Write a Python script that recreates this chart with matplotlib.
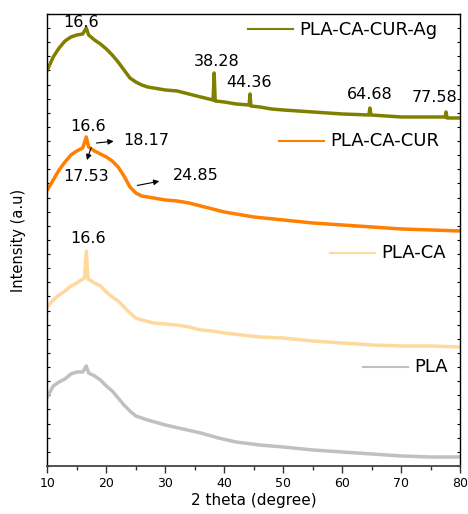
import matplotlib
matplotlib.use('Agg')
import numpy as np
from matplotlib import pyplot as plt

# 2 theta positions (degree) and intensity (a.u.)
x_ag = [10, 11, 12, 13, 14, 15, 16, 16.6, 17, 18, 19, 20, 21, 22, 23, 24, 25, 26, 27, 28,
        30, 32, 34, 36, 38.1, 38.28, 38.45, 40, 42, 44.2, 44.36, 44.5, 46, 48, 50, 55, 60,
        64.5, 64.68, 64.85, 70, 75, 77.4, 77.58, 77.75, 80]
y_ag = [396, 409, 418, 425, 429, 431, 432, 438, 431, 426, 422, 417, 411, 404, 396, 388,
        384, 381, 379, 378, 376, 375, 372, 369, 366, 393, 365, 364, 362, 361, 372, 360,
        359, 357, 356, 354, 352, 351, 358, 351, 349, 349, 349, 354, 348, 348]

x_cur = [10, 11, 12, 13, 14, 15, 16, 16.6, 17, 18, 19, 20, 21, 22, 23, 24, 25, 26, 28, 30,
         32, 34, 36, 38, 40, 42, 45, 50, 55, 60, 65, 70, 75, 80]
y_cur = [276, 286, 296, 304, 311, 315, 318, 329, 319, 315, 312, 309, 305, 299, 290, 279,
         273, 270, 268, 266, 265, 263, 260, 257, 254, 252, 249, 246, 243, 241, 239, 237,
         236, 235]

x_ca = [10, 11, 12, 13, 14, 15, 16.3, 16.6, 16.9, 18, 19, 20, 21, 22, 23, 24, 25, 26, 28, 30,
        32, 34, 36, 38, 40, 43, 46, 50, 55, 60, 65, 70, 75, 80]
y_ca = [159, 166, 171, 175, 180, 183, 188, 215, 187, 183, 180, 174, 169, 165, 159, 153,
        148, 146, 143, 142, 141, 139, 136, 135, 133, 131, 129, 128, 125, 123, 121, 120,
        120, 119]

x_pla = [10, 11, 12, 13, 14, 15, 16, 16.6, 17, 18, 19, 20, 21, 22, 23, 24, 25, 26, 27, 30,
         33, 36, 39, 42, 46, 50, 55, 60, 65, 70, 75, 80]
y_pla = [69, 80, 84, 87, 92, 94, 94, 100, 93, 90, 86, 80, 75, 68, 61, 55, 50, 48, 46, 41,
         37, 33, 28, 24, 21, 19, 16, 14, 12, 10, 9, 9]

names = ['PLA-CA-CUR-Ag', 'PLA-CA-CUR', 'PLA-CA', 'PLA']
colors = ['#808000', '#FF8000', '#FFD99C', '#C0C0C0']

# peak labels: (text, x, y)
peak_labels = [('16.6', 15.76, 443), ('38.28', 38.64, 404), ('44.36', 44.24, 383),
               ('64.68', 64.58, 371), ('77.58', 75.6, 368),
               ('16.6', 16.95, 339), ('16.6', 16.95, 227)]


def main():
    fig = plt.figure(figsize=(4.68, 5.14), dpi=100)
    ax = fig.add_axes([0.1011, 0.0934, 0.8825, 0.8794])

    series = [(x_ag, y_ag), (x_cur, y_cur), (x_ca, y_ca), (x_pla, y_pla)]
    for (xs, ys), c in zip(series, colors):
        ax.plot(xs, ys, color=c, linewidth=2.5, solid_joinstyle='round')

    for txt, x, y in peak_labels:
        ax.text(x, y, txt, fontsize=11.5, ha='center', va='center')

    arrow = dict(arrowstyle='-|>', color='k', lw=0.8, mutation_scale=8)
    ax.annotate('', xy=(21.7, 325), xytext=(17.85, 322.7), arrowprops=arrow)
    ax.text(22.88, 325, '18.17', fontsize=11.5, ha='left', va='center')
    ax.annotate('', xy=(16.56, 303.3), xytext=(17.58, 321), arrowprops=arrow)
    ax.text(16.6, 289, '17.53', fontsize=11.5, ha='center', va='center')
    ax.annotate('', xy=(29.44, 285.3), xytext=(24.8, 280), arrowprops=arrow)
    ax.text(31.36, 290, '24.85', fontsize=11.5, ha='left', va='center')

    # Origin-style legend: one entry next to each curve
    leg_pos = [(44.07, 436.7), (49.3, 325), (57.97, 213), (63.56, 99.3)]
    for name, c, (lx, ly) in zip(names, colors, leg_pos):
        ax.plot([lx, lx + 7.6], [ly, ly], color=c, linewidth=1.5)
        ax.text(lx + 8.7, ly - 0.5, name, fontsize=13, ha='left', va='center')

    ax.set_xlim(10, 80)
    ax.set_ylim(0, 452)
    ax.set_xticks(np.arange(10, 81, 10))
    ax.set_xticks(np.arange(15, 80, 10), minor=True)
    ax.set_yticks(np.arange(0, 453, 452 / 32))
    ax.set_yticklabels([])
    ax.tick_params(axis='x', which='major', direction='out', length=5, width=1,
                   labelsize=9, colors='#333333', labelcolor='k', pad=3)
    ax.tick_params(axis='x', which='minor', direction='out', length=3, width=1,
                   colors='#333333')
    ax.tick_params(axis='y', direction='in', length=2.5, width=0.8, right=True, left=True)

    for s in ['left', 'right', 'top']:
        ax.spines[s].set_linewidth(1)
    ax.spines['bottom'].set_linewidth(1.3)
    ax.spines['bottom'].set_color('#444444')

    ax.set_xlabel('2 theta (degree)', fontsize=11, labelpad=2)
    ax.set_ylabel('Intensity (a.u)', fontsize=10.5, labelpad=12)

    fig.savefig('out.png', dpi=100)


if __name__ == "__main__":
    main()
